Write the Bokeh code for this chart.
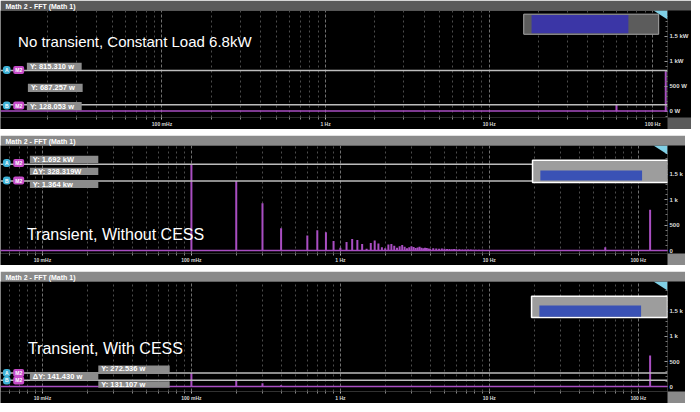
from bokeh.plotting import figure
from bokeh.models import FixedTicker, Span, Label, BoxAnnotation, PolyAnnotation, Range1d
from bokeh.layouts import column
from bokeh.embed import file_html
from bokeh.resources import INLINE

# ---------------- data ----------------
panel_titles = ["Math 2 - FFT (Math 1)", "Math 2 - FFT (Math 1)", "Math 2 - FFT (Math 1)"]
captions = ["No transient, Constant Load 6.8kW", "Transient, Without CESS", "Transient, With CESS"]

# Panel 1 : no transient, constant load
p1_freq = [60, 120]
p1_amp = [128.053, 815.310]
p1_cursor_y = [815.310, 128.053]
p1_readouts = ["Y: 815.310 w", "Y: 687.257 w", "Y: 128.053 w"]

# Panel 2 : transient without CESS (Hz, W)
p2_freq = [0.1, 0.2, 0.3, 0.4, 0.6, 0.7, 0.8, 0.9, 1.0, 1.1,
           1.2, 1.3, 1.4, 1.5, 1.6, 1.7, 1.8, 1.9, 2.0, 2.1,
           2.2, 2.3, 2.4, 2.5, 2.6, 2.7, 2.8, 2.9, 3.0, 3.1,
           3.2, 3.3, 3.4, 3.5, 3.6, 3.7, 3.8, 3.9, 4.0, 4.2,
           4.4, 4.6, 4.8, 5.0, 5.2, 5.4, 5.6, 5.8, 6.0, 6.3,
           6.6, 6.9, 7.2, 7.5, 7.8, 8.1, 8.5, 9.0, 60, 120]
p2_amp = [1692, 1364, 930, 440, 300, 400, 360, 190, 60, 170,
          230, 210, 130, 40, 150, 200, 140, 70, 50, 120,
          130, 100, 60, 90, 110, 80, 50, 70, 90, 75,
          55, 65, 80, 60, 50, 60, 55, 45, 40, 50,
          45, 40, 45, 38, 35, 35, 30, 32, 28, 28,
          25, 25, 22, 22, 20, 20, 18, 18, 70, 800]
p2_cursor_y = [1692.0, 1364.0]
p2_readouts = ["Y: 1.692 kW", "\u0394Y: 328.319W", "Y: 1.364 kw"]

# Panel 3 : transient with CESS (Hz, W)
p3_freq = [0.1, 0.2, 0.3, 0.4, 0.6, 0.7, 0.8, 0.9, 1.1, 1.2, 1.3, 60, 120]
p3_amp = [272.536, 131.107, 70, 35, 15, 20, 18, 12, 10, 12, 10, 25, 620]
p3_cursor_y = [272.536, 131.107]
p3_readouts = ["Y: 272.536 w", "\u0394Y: 141.430 w", "Y: 131.107 w"]

noise_floor = [0, 6, 6]

x_major_ticks = [0.01, 0.1, 1, 10, 100]
x_major_labels = ["10 mHz", "100 mHz", "1 Hz", "10 Hz", "100 Hz"]
y_major_ticks = [0, 500, 1000, 1500]
y_labels_p1 = ["0 W", "500 W", "1 kW", "1.5 kW"]
y_labels = ["0", "500", "1 k", "1.5 k"]

x_ranges = [(0.0103, 123), (0.00523, 157), (0.00523, 157)]
y_ranges = [(-128, 2015), (-54, 2060), (-91, 2085)]

# ---------------- styling / layout ----------------
PURPLE = "#a94ec2"
FW = 667
FHS = [107, 108, 110]
REF_R = 682.0
REF_TB = [(8, 125), (146, 263), (285, 404)]
TITLE_BG = ["#5a5a5a", "#8a8a8a", "#8a8a8a"]

overview = [
    dict(outer=(535, 673, 12, 34), fill="#5c5c5c", line="#a8a8a8", lw=1, blue=(543, 642, 13, 33), bcol="#3b36a6"),
    dict(outer=(544, 683, 162, 186), fill="#9d9d9d", line="#ffffff", lw=1.5, blue=(552, 656, 173, 184), bcol="#3a52b5"),
    dict(outer=(543, 682, 301, 324), fill="#9d9d9d", line="#ffffff", lw=1.5, blue=(551, 655, 311, 323), bcol="#3a52b5"),
]
readout_boxes = [
    [(27, 83, 65, 73), (28, 84, 88, 97), (27, 83, 108, 117)],
    [(30, 100, 157, 165), (30, 100, 170, 178), (30, 100, 184, 192)],
    [(100, 173, 376, 383), (30, 100, 384, 392), (100, 173, 393, 400)],
]
badge_y = [(73, 112), (165, 184), (384, 392)]
caption_pos = [(18, 42, "15px"), (27, 242, "16px"), (28, 358, "16px")]

x_minor = [k * 10.0 ** e for e in range(-3, 3) for k in range(2, 10)]
y_minor = [v for v in range(-200, 2100, 100) if v % 500 != 0]

freqs = [p1_freq, p2_freq, p3_freq]
amps = [p1_amp, p2_amp, p3_amp]
cursors = [p1_cursor_y, p2_cursor_y, p3_cursor_y]
readouts = [p1_readouts, p2_readouts, p3_readouts]


def make_panel(i):
    FH = FHS[i]
    top, bot = REF_TB[i]

    def sx(xr):
        return xr * FW / REF_R

    def sy(yr):
        return (bot - yr) * FH / (bot - top)

    p = figure(frame_width=FW, frame_height=FH, x_axis_type="log",
               x_range=Range1d(*x_ranges[i]), y_range=Range1d(*y_ranges[i]),
               y_axis_location="right", toolbar_location=None, output_backend="svg",
               background_fill_color="black", border_fill_color=TITLE_BG[i],
               min_border_left=0, min_border_right=0, min_border_top=0, min_border_bottom=0,
               outline_line_color=None, title=panel_titles[i])
    p.title.text_font_size = "7px"
    p.title.text_color = "white"
    p.title.text_font = "Liberation Sans"
    p.title.text_font_style = "bold"
    p.title.standoff = 1
    p.title.offset = 5

    xa = p.xaxis[0]
    xa.ticker = FixedTicker(ticks=x_major_ticks, minor_ticks=x_minor)
    xa.major_label_overrides = dict(zip(x_major_ticks, x_major_labels))
    xa.major_label_text_font_size = "5px"
    xa.major_label_text_color = "#d8d8d8"
    xa.major_label_text_font_style = "bold"
    xa.major_label_standoff = 1
    xa.major_tick_out = 2
    xa.major_tick_in = 0
    xa.minor_tick_out = 2
    xa.minor_tick_in = 0
    xa.major_tick_line_color = "#bbbbbb"
    xa.minor_tick_line_color = "#888888"
    xa.axis_line_color = None

    ya = p.yaxis[0]
    ya.ticker = FixedTicker(ticks=y_major_ticks, minor_ticks=y_minor)
    ya.major_label_overrides = dict(zip(y_major_ticks, y_labels_p1 if i == 0 else y_labels))
    ya.major_label_text_font_size = "6px"
    ya.major_label_text_color = "#dddddd"
    ya.major_label_text_font_style = "bold"
    ya.major_label_standoff = 2
    ya.major_tick_out = 0
    ya.major_tick_in = 3
    ya.minor_tick_out = 0
    ya.minor_tick_in = 2
    ya.major_tick_line_color = "#999999"
    ya.minor_tick_line_color = "#777777"
    ya.axis_line_color = None
    for ax in (xa, ya):
        try:
            ax.background_fill_color = "black"
        except Exception:
            pass

    p.xgrid.grid_line_color = "#707070"
    p.xgrid.grid_line_dash = "3 2"
    p.xgrid.minor_grid_line_color = "#4c4c4c"
    p.xgrid.minor_grid_line_dash = "2 3"
    p.ygrid.grid_line_color = None

    # spectrum trace
    p.add_layout(Span(location=noise_floor[i], dimension="width", line_color=PURPLE, line_width=1.5))
    p.segment(x0=freqs[i], y0=[noise_floor[i]] * len(freqs[i]), x1=freqs[i], y1=amps[i],
              line_color=PURPLE, line_width=2)

    # cursor lines
    for cy in cursors[i]:
        p.add_layout(Span(location=cy, dimension="width", line_color="#bdbdbd", line_width=1.5))

    # overview box
    ov = overview[i]
    l, r, t, b = ov["outer"]
    p.add_layout(BoxAnnotation(left=sx(l), right=sx(r), top=sy(t), bottom=sy(b),
                               left_units="screen", right_units="screen", top_units="screen", bottom_units="screen",
                               fill_color=ov["fill"], fill_alpha=1, line_color=ov["line"], line_width=ov["lw"], line_alpha=1))
    l, r, t, b = ov["blue"]
    p.add_layout(BoxAnnotation(left=sx(l), right=sx(r), top=sy(t), bottom=sy(b),
                               left_units="screen", right_units="screen", top_units="screen", bottom_units="screen",
                               fill_color=ov["bcol"], fill_alpha=1, line_color=None))

    # readouts
    for (l, r, t, b), txt in zip(readout_boxes[i], readouts[i]):
        p.add_layout(BoxAnnotation(left=sx(l), right=sx(r), top=sy(t), bottom=sy(b),
                                   left_units="screen", right_units="screen", top_units="screen", bottom_units="screen",
                                   fill_color="#8c8c8c", fill_alpha=1, line_color=None))
        p.add_layout(Label(x=sx(l) + 3, y=sy((t + b) / 2.0), x_units="screen", y_units="screen",
                           text=txt, text_color="white", text_font_size="7.5px", text_font="Liberation Sans",
                           text_font_style="bold", text_baseline="middle"))

    # cursor badges
    for letter, by in zip(["A", "B"], badge_y[i]):
        p.add_layout(Label(x=sx(2.5), y=sy(by), x_units="screen", y_units="screen", text=letter,
                           text_color="white", text_font_size="5px", text_font_style="bold",
                           text_baseline="middle", background_fill_color="#3fb3d8", border_radius=3,
                           padding=dict(left=2, right=2, top=1, bottom=1)))
        p.add_layout(Label(x=sx(13), y=sy(by), x_units="screen", y_units="screen", text="M2",
                           text_color="white", text_font_size="5px", text_font_style="bold",
                           text_baseline="middle", background_fill_color="#c64bc8", border_radius=2,
                           padding=dict(left=2, right=2, top=1, bottom=1)))

    # caption
    cx, cy, fs = caption_pos[i]
    p.add_layout(Label(x=sx(cx), y=sy(cy), x_units="screen", y_units="screen", text=captions[i],
                       text_color="white", text_font_size=fs, text_font="Liberation Sans",
                       text_baseline="alphabetic"))

    # corner marker (top-right of the display)
    p.add_layout(PolyAnnotation(xs=[FW - 14, FW, FW], ys=[FH, FH, FH - 9],
                                xs_units="screen", ys_units="screen",
                                fill_color="#7fd0e6", fill_alpha=1, line_color=None))
    return p


plots = [make_panel(i) for i in range(3)]
layout = column(*plots, spacing=6)
open("out.html", "w").write(file_html(layout, INLINE))
